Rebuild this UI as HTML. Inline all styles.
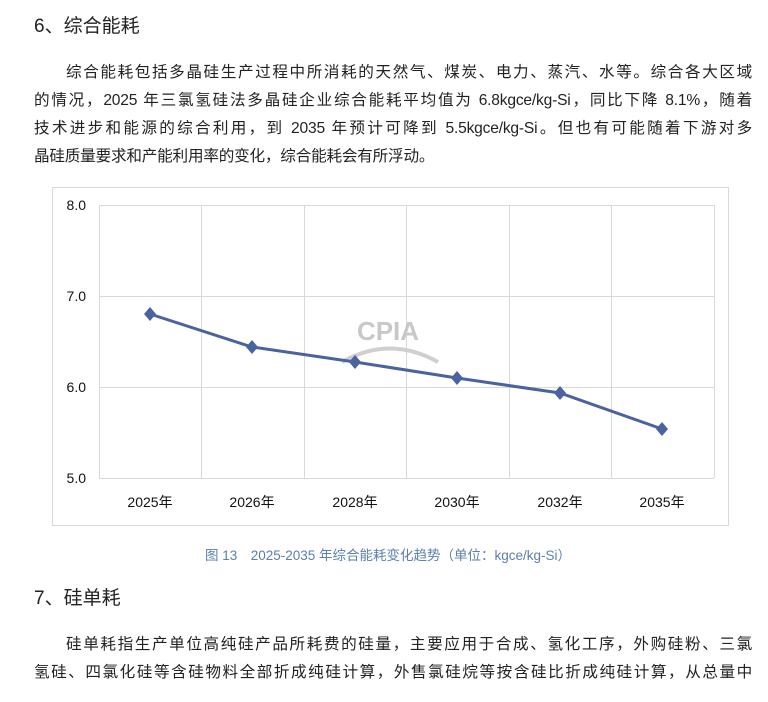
<!DOCTYPE html>
<html><head><meta charset="utf-8"><style>
body{margin:0;width:768px;height:702px;background:#fff;overflow:hidden;font-family:"Liberation Sans","Noto Sans CJK SC",sans-serif;color:#222;position:relative}
.h{position:absolute;left:34px;font-size:19px;line-height:24px}
.l{position:absolute;left:34px;width:718px;font-size:15.6px;line-height:28px;text-align:justify;text-align-last:justify;white-space:nowrap;letter-spacing:-0.2px}
.i{padding-left:32px;width:686px}
.n{text-align-last:left}
</style></head><body>
<div class="h" style="top:15px">6、综合能耗</div>
<div class="l i" style="top:59px">综合能耗包括多晶硅生产过程中所消耗的天然气、煤炭、电力、蒸汽、水等。综合各大区域</div>
<div class="l" style="top:87px">的情况，2025 年三氯氢硅法多晶硅企业综合能耗平均值为 6.8kgce/kg-Si，同比下降 8.1%，随着</div>
<div class="l" style="top:115px">技术进步和能源的综合利用，到 2035 年预计可降到 5.5kgce/kg-Si。但也有可能随着下游对多</div>
<div class="l n" style="top:143px">晶硅质量要求和产能利用率的变化，综合能耗会有所浮动。</div>
<svg style="position:absolute;left:0;top:0" width="768" height="702">
<rect x="52.5" y="187.5" width="676" height="338" fill="#fff" stroke="#d9d9d9"/>
<g stroke="#d9d9d9" stroke-width="1">
<line x1="99" y1="205.5" x2="714" y2="205.5"/><line x1="99" y1="296.5" x2="714" y2="296.5"/><line x1="99" y1="387.5" x2="714" y2="387.5"/><line x1="99" y1="478.5" x2="714" y2="478.5"/>
<line x1="99.5" y1="205" x2="99.5" y2="478"/><line x1="201.5" y1="205" x2="201.5" y2="478"/><line x1="304.5" y1="205" x2="304.5" y2="478"/><line x1="406.5" y1="205" x2="406.5" y2="478"/><line x1="509.5" y1="205" x2="509.5" y2="478"/><line x1="611.5" y1="205" x2="611.5" y2="478"/><line x1="714.5" y1="205" x2="714.5" y2="478"/>
</g>
<g font-size="14" fill="#111" text-anchor="end" font-family="Liberation Sans,sans-serif">
<text x="86" y="210">8.0</text><text x="86" y="301">7.0</text><text x="86" y="392">6.0</text><text x="86" y="483">5.0</text>
</g>
<g font-size="14" fill="#111" text-anchor="middle" font-family="Liberation Sans,Noto Sans CJK SC,sans-serif">
<text x="150" y="507">2025年</text><text x="252" y="507">2026年</text><text x="355" y="507">2028年</text><text x="457" y="507">2030年</text><text x="560" y="507">2032年</text><text x="662" y="507">2035年</text>
</g>
<text x="388" y="340" font-size="26" font-weight="bold" fill="#c8c8c8" text-anchor="middle" font-family="Liberation Sans,sans-serif">CPIA</text>
<path d="M342 362 Q390 335 438 362" stroke="#cfcfcf" stroke-width="4" fill="none"/>
<polyline points="150,314 252,347 355,362 457,378 560,393 662,429" fill="none" stroke="#4a62a0" stroke-width="3"/>
<g fill="#4a62a0">
<path d="M150 307l6 7-6 7-6-7z"/><path d="M252 340l6 7-6 7-6-7z"/><path d="M355 355l6 7-6 7-6-7z"/><path d="M457 371l6 7-6 7-6-7z"/><path d="M560 386l6 7-6 7-6-7z"/><path d="M662 422l6 7-6 7-6-7z"/>
</g>
</svg>
<div style="position:absolute;top:544px;left:0;width:776px;text-align:center;font-size:13.5px;color:#5b7fae">图 13　2025-2035 年综合能耗变化趋势（单位：kgce/kg-Si）</div>
<div class="h" style="top:587px">7、硅单耗</div>
<div class="l i" style="top:631px">硅单耗指生产单位高纯硅产品所耗费的硅量，主要应用于合成、氢化工序，外购硅粉、三氯</div>
<div class="l" style="top:659px">氢硅、四氯化硅等含硅物料全部折成纯硅计算，外售氯硅烷等按含硅比折成纯硅计算，从总量中</div>
</body></html>
